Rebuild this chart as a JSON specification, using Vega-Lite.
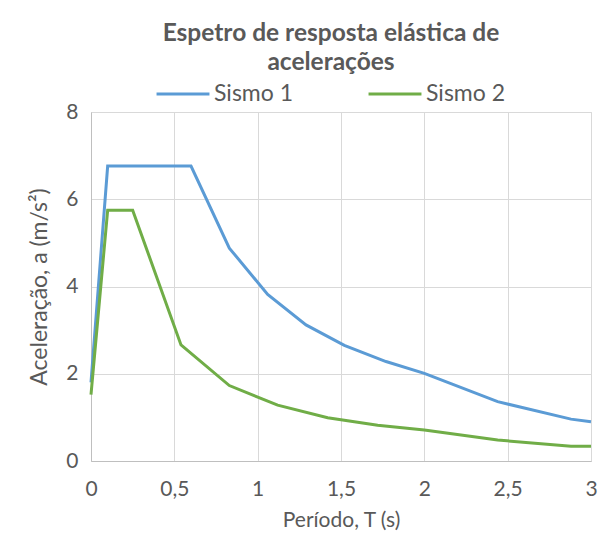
{
  "$schema": "https://vega.github.io/schema/vega-lite/v6.json",
  "autosize": {"type": "none"},
  "padding": {"left": 91, "top": 112, "right": 15, "bottom": 81},
  "width": 500,
  "height": 349,
  "background": "white",
  "title": {
    "text": ["Espetro de resposta elástica de", "acelerações"],
    "fontSize": 24.5,
    "fontWeight": "bold",
    "font": "Lato",
    "color": "#595959",
    "anchor": "middle",
    "lineHeight": 29,
    "offset": -9,
    "dx": -10
  },
  "data": {
    "values": [
      {"serie": "Sismo 1", "T": 0, "a": 1.8},
      {"serie": "Sismo 1", "T": 0.1, "a": 6.76},
      {"serie": "Sismo 1", "T": 0.6, "a": 6.76},
      {"serie": "Sismo 1", "T": 0.83, "a": 4.88},
      {"serie": "Sismo 1", "T": 1.06, "a": 3.82},
      {"serie": "Sismo 1", "T": 1.29, "a": 3.12},
      {"serie": "Sismo 1", "T": 1.52, "a": 2.65},
      {"serie": "Sismo 1", "T": 1.77, "a": 2.28},
      {"serie": "Sismo 1", "T": 2.0, "a": 2.01},
      {"serie": "Sismo 1", "T": 2.44, "a": 1.36},
      {"serie": "Sismo 1", "T": 2.88, "a": 0.96},
      {"serie": "Sismo 1", "T": 3.0, "a": 0.9},
      {"serie": "Sismo 2", "T": 0, "a": 1.52},
      {"serie": "Sismo 2", "T": 0.1, "a": 5.75},
      {"serie": "Sismo 2", "T": 0.25, "a": 5.75},
      {"serie": "Sismo 2", "T": 0.54, "a": 2.66},
      {"serie": "Sismo 2", "T": 0.83, "a": 1.73},
      {"serie": "Sismo 2", "T": 1.12, "a": 1.28},
      {"serie": "Sismo 2", "T": 1.42, "a": 0.99},
      {"serie": "Sismo 2", "T": 1.72, "a": 0.82},
      {"serie": "Sismo 2", "T": 2.0, "a": 0.71},
      {"serie": "Sismo 2", "T": 2.44, "a": 0.48},
      {"serie": "Sismo 2", "T": 2.88, "a": 0.34},
      {"serie": "Sismo 2", "T": 3.0, "a": 0.34}
    ]
  },
  "mark": {"type": "line", "strokeWidth": 3, "strokeJoin": "miter"},
  "encoding": {
    "x": {
      "field": "T",
      "type": "quantitative",
      "scale": {"domain": [0, 3], "nice": false},
      "axis": {
        "title": "Período, T (s)",
        "values": [0, 0.5, 1, 1.5, 2, 2.5, 3],
        "labelExpr": "replace(format(datum.value, '~g'), '.', ',')",
        "labelFont": "Lato",
        "labelFontSize": 21,
        "labelColor": "#595959",
        "labelPadding": 17,
        "titleFont": "Lato",
        "titleFontSize": 21,
        "titleFontWeight": "normal",
        "titleColor": "#595959",
        "titlePadding": 10,
        "ticks": false,
        "domainColor": "#bfbfbf",
        "gridColor": "#d9d9d9",
        "labelFlush": false
      }
    },
    "y": {
      "field": "a",
      "type": "quantitative",
      "scale": {"domain": [0, 8], "nice": false},
      "axis": {
        "title": "Aceleração, a (m/s²)",
        "values": [0, 2, 4, 6, 8],
        "labelFont": "Lato",
        "labelFontSize": 21,
        "labelColor": "#595959",
        "labelPadding": 13,
        "titleFont": "Lato",
        "titleFontSize": 23,
        "titleFontWeight": "normal",
        "titleColor": "#595959",
        "titlePadding": 14,
        "ticks": false,
        "domainColor": "#bfbfbf",
        "gridColor": "#d9d9d9"
      }
    },
    "color": {
      "field": "serie",
      "type": "nominal",
      "scale": {"domain": ["Sismo 1", "Sismo 2"], "range": ["#5B9BD5", "#70AD47"]},
      "legend": {
        "title": null,
        "orient": "none",
        "direction": "horizontal",
        "legendX": 64,
        "legendY": -46,
        "symbolType": "stroke",
        "symbolSize": 2800,
        "symbolStrokeWidth": 3,
        "labelFont": "Lato",
        "labelFontSize": 23,
        "labelColor": "#595959",
        "labelOffset": 3,
        "columnPadding": 68
      }
    }
  },
  "config": {
    "view": {"stroke": "#d9d9d9"}
  }
}
